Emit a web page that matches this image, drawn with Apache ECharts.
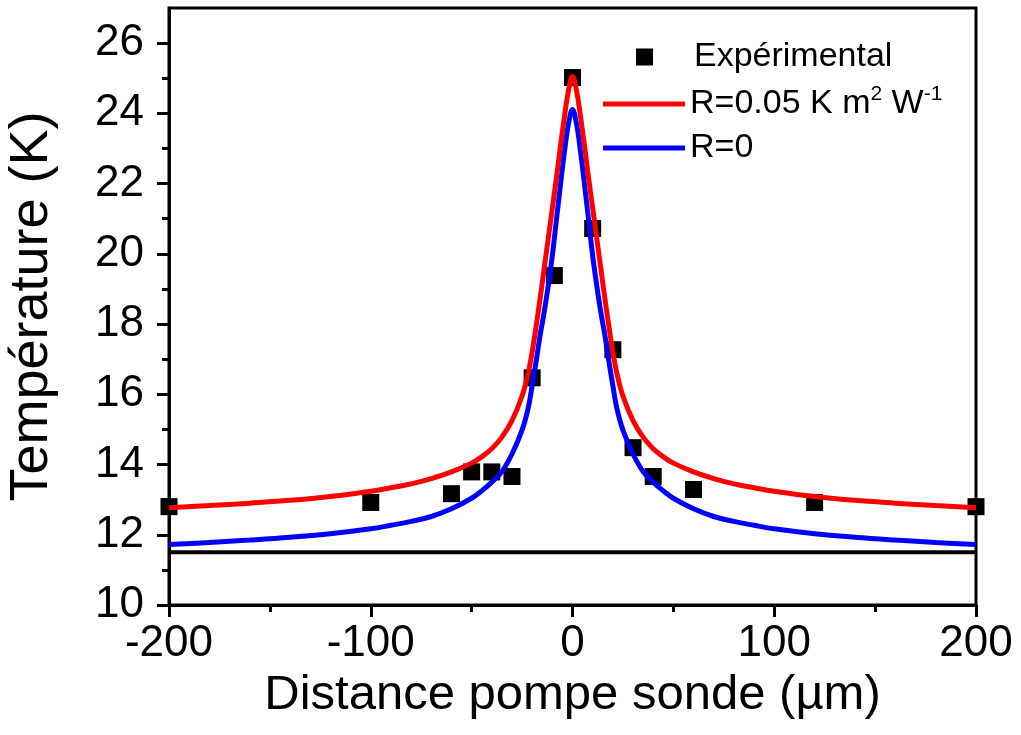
<!DOCTYPE html>
<html>
<head>
<meta charset="utf-8">
<script src="https://cdn.jsdelivr.net/npm/echarts@6/dist/echarts.min.js"></script>
<style>html,body{margin:0;padding:0;background:#fff;}#c{width:1021px;height:735px;}</style>
</head>
<body>
<div id="c"></div>
<script>
// ---- data ----
const expX = [-200, -100, -60, -50, -40, -30, -20, -9, 0, 10, 20, 30, 40, 60, 120, 200];
const expY = [12.8, 12.92, 13.17, 13.79, 13.79, 13.66, 16.47, 19.38, 25.02, 20.72, 17.27, 14.48, 13.66, 13.29, 12.92, 12.8];

const curveX = [-200, -180, -160, -140, -120, -100, -90, -80, -70, -60, -50, -45, -40, -35, -30, -25, -22, -20, -18, -16, -14, -12, -10, -8, -6, -4, -2, 0,
                2, 4, 6, 8, 10, 12, 14, 16, 18, 20, 22, 25, 30, 35, 40, 45, 50, 60, 70, 80, 90, 100, 120, 140, 160, 180, 200];
const redY = [12.77, 12.83, 12.9, 12.98, 13.09, 13.24, 13.34, 13.45, 13.6, 13.79, 14.04, 14.22, 14.45, 14.78, 15.25, 15.95, 16.6, 17.2, 17.95, 18.75, 19.6, 20.45, 21.3, 22.15, 23.05, 23.9, 24.65, 25.05,
              24.65, 23.9, 23.05, 22.15, 21.3, 20.45, 19.6, 18.75, 17.95, 17.2, 16.6, 15.95, 15.25, 14.78, 14.45, 14.22, 14.04, 13.79, 13.6, 13.45, 13.34, 13.24, 13.09, 12.98, 12.9, 12.83, 12.77];
const blueY = [11.72, 11.78, 11.85, 11.93, 12.03, 12.17, 12.27, 12.38, 12.52, 12.74, 13.04, 13.25, 13.5, 13.8, 14.3, 14.98, 15.6, 16.25, 16.95, 17.7, 18.35, 19.1, 19.95, 20.95, 21.95, 22.9, 23.7, 24.11,
               23.7, 22.9, 21.95, 20.95, 19.95, 19.1, 18.35, 17.7, 16.95, 16.25, 15.6, 14.98, 14.3, 13.8, 13.5, 13.25, 13.04, 12.74, 12.52, 12.38, 12.27, 12.17, 12.03, 11.93, 11.85, 11.78, 11.72];

const baseLineY = 11.5;
const xRange = [-200, 200];

const xMajorTicks = [-200, -100, 0, 100, 200];
const xMinorTicks = [-150, -50, 50, 150];
const yMajorTicks = [10, 12, 14, 16, 18, 20, 22, 24, 26];
const yMinorTicks = [11, 13, 15, 17, 19, 21, 23, 25];

const nameExp = 'Expérimental';
const nameRed = 'R=0.05 K m2 W-1';
const nameBlue = 'R=0';

// ---- build ----
const zip = (xs, ys) => xs.map((x, i) => [x, ys[i]]);
const FONT = 'Liberation Sans, Arial, sans-serif';
const BLACK = '#000';

function tickAxis(type, values, len) {
  const base = {
    type: 'value', offset: 0,
    axisLine: {show: false, onZero: false},
    axisTick: {show: true, inside: false, length: len, customValues: values, lineStyle: {color: BLACK, width: 3}},
    axisLabel: {show: false},
    splitLine: {show: false}
  };
  if (type === 'x') return Object.assign(base, {min: -200, max: 200, position: 'bottom'});
  return Object.assign(base, {min: 10, max: 27, position: 'left'});
}

const chart = echarts.init(document.getElementById('c'), null, {renderer: 'canvas'});
chart.setOption({
  backgroundColor: '#fff',
  animation: false,
  textStyle: {fontFamily: FONT, color: BLACK},
  grid: {left: 169, right: 45, top: 8, bottom: 130, show: true, borderColor: BLACK, borderWidth: 3,
         containLabel: false, outerBoundsMode: 'none'},
  xAxis: [{
    type: 'value', min: -200, max: 200, interval: 100, position: 'bottom',
    name: 'Distance pompe sonde (µm)', nameLocation: 'middle', nameGap: 54,
    nameTextStyle: {fontSize: 49, color: BLACK, fontFamily: FONT},
    axisLine: {show: true, onZero: false, lineStyle: {color: BLACK, width: 3}},
    axisTick: {show: false},
    axisLabel: {fontSize: 44, color: BLACK, margin: 17, fontFamily: FONT},
    splitLine: {show: false}
  }, tickAxis('x', xMajorTicks, 12), tickAxis('x', xMinorTicks, 7)],
  yAxis: [{
    type: 'value', min: 10, max: 27, interval: 2, position: 'left',
    name: 'Température (K)', nameLocation: 'middle', nameGap: 110,
    nameTextStyle: {fontSize: 54, color: BLACK, fontFamily: FONT},
    axisLine: {show: true, onZero: false, lineStyle: {color: BLACK, width: 3}},
    axisTick: {show: false},
    axisLabel: {fontSize: 44, color: BLACK, margin: 25, customValues: yMajorTicks, fontFamily: FONT},
    splitLine: {show: false}
  }, tickAxis('y', yMajorTicks, 12), tickAxis('y', yMinorTicks, 7)],
  legend: [
    {data: [{name: nameExp, icon: 'rect'}], left: 636, top: 37, padding: 0, itemWidth: 17, itemHeight: 17,
     textStyle: {fontSize: 34, color: BLACK, lineHeight: 40, padding: [0, 0, 0, 36], fontFamily: FONT}},
    {data: [{name: nameRed, icon: 'rect'}], left: 603, top: 84, padding: 0, itemWidth: 82, itemHeight: 5,
     formatter: () => '{a|R=0.05 K m}{s|2}{a| W}{s|-1}',
     textStyle: {fontSize: 34, color: BLACK, lineHeight: 40, fontFamily: FONT,
       rich: {a: {fontSize: 34, lineHeight: 40, color: BLACK, fontFamily: FONT},
              s: {fontSize: 21, lineHeight: 21, verticalAlign: 'top', color: BLACK, fontFamily: FONT}}}},
    {data: [{name: nameBlue, icon: 'rect'}], left: 603, top: 128, padding: 0, itemWidth: 82, itemHeight: 5,
     textStyle: {fontSize: 34, color: BLACK, lineHeight: 40, fontFamily: FONT}}
  ],
  series: [
    {
      name: 'baseline', type: 'line', data: [[xRange[0], baseLineY], [xRange[1], baseLineY]],
      showSymbol: false, symbol: 'none', lineStyle: {color: BLACK, width: 4}, z: 1, silent: true
    },
    {
      name: nameExp, type: 'scatter', data: zip(expX, expY), symbol: 'rect', symbolSize: 17,
      itemStyle: {color: BLACK, opacity: 1}, z: 2
    },
    {
      name: nameRed, type: 'line', data: zip(curveX, redY), showSymbol: false, symbol: 'none',
      smooth: 0.4, itemStyle: {color: '#ff0000'}, lineStyle: {color: '#ff0000', width: 5}, z: 4
    },
    {
      name: nameBlue, type: 'line', data: zip(curveX, blueY), showSymbol: false, symbol: 'none',
      smooth: 0.4, itemStyle: {color: '#0000ff'}, lineStyle: {color: '#0000ff', width: 5}, z: 3
    }
  ]
});
</script>
</body>
</html>
